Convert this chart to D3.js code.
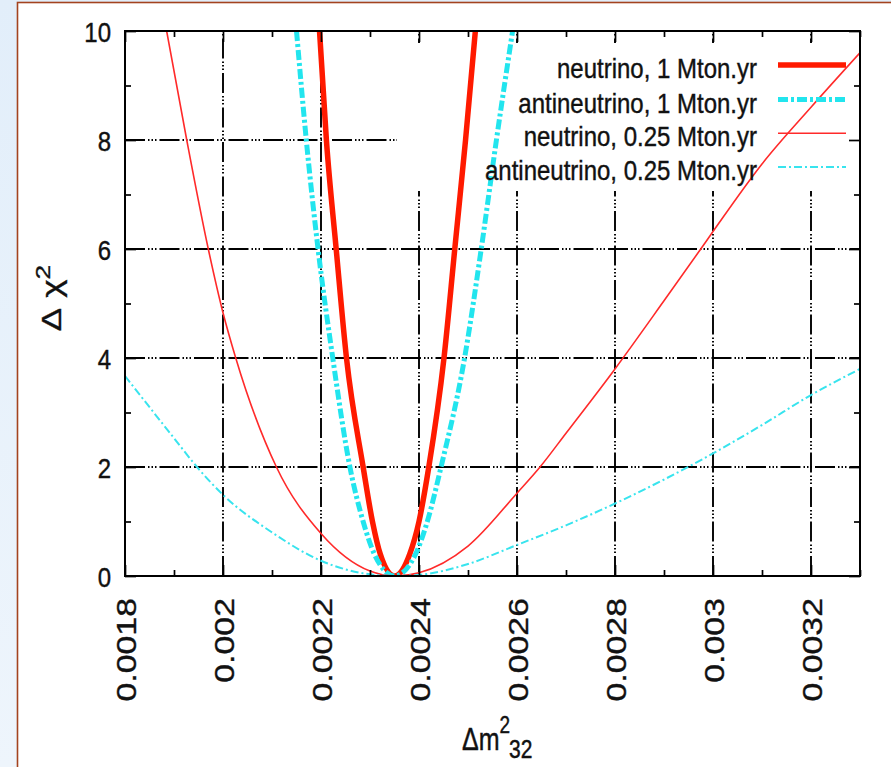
<!DOCTYPE html>
<html><head><meta charset="utf-8">
<script src="https://cdn.jsdelivr.net/npm/d3@7/dist/d3.min.js"></script>
<style>
html,body{margin:0;padding:0;background:#fff;}
svg{display:block;font-family:"Liberation Sans",Arial,Helvetica,sans-serif;}
</style></head>
<body>
<script>
// ---------- data ----------
const xTickValues = [0.0018, 0.002, 0.0022, 0.0024, 0.0026, 0.0028, 0.003, 0.0032];
const xTickLabels = ["0.0018", "0.002", "0.0022", "0.0024", "0.0026", "0.0028", "0.003", "0.0032"];
const xMinorTicks = [0.0019, 0.0021, 0.0023, 0.0025, 0.0027, 0.0029, 0.0031, 0.0033];
const yTickValues = [0, 2, 4, 6, 8, 10];
const yTickLabels = ["0", "2", "4", "6", "8", "10"];
const yMinorTicks = [1, 3, 5, 7, 9];

const seriesNames = ["neutrino, 1 Mton.yr", "antineutrino, 1 Mton.yr",
                     "neutrino, 0.25 Mton.yr", "antineutrino, 0.25 Mton.yr"];

// [delta m^2_32, delta chi^2]
const neutrino1 = [
  [0.002197, 10], [0.002211, 8], [0.002231, 6], [0.002252, 4], [0.002286, 2],
  [0.002305, 1], [0.002321, 0.4], [0.00235, 0], [0.002381, 0.4], [0.0024, 1],
  [0.00242, 2], [0.002451, 4], [0.002473, 6], [0.002495, 8], [0.002515, 10]
];
const antineutrino1 = [
  [0.00215, 10], [0.00217, 8], [0.002194, 6], [0.002224, 4], [0.002259, 2],
  [0.002286, 1], [0.002309, 0.4], [0.00235, 0], [0.002393, 0.4], [0.002417, 1],
  [0.002445, 2], [0.002493, 4], [0.002527, 6], [0.002558, 8], [0.002591, 10]
];
const neutrino025 = [
  [0.001885, 10], [0.001926, 8], [0.00197, 6], [0.002, 4.83], [0.002026, 4],
  [0.002109, 2], [0.0022, 0.78], [0.0023, 0.09], [0.00235, 0], [0.0024, 0.06],
  [0.0025, 0.55], [0.0026, 1.52], [0.002647, 2], [0.0027, 2.62], [0.0028, 3.8],
  [0.0029, 5.05], [0.002975, 6], [0.003, 6.32], [0.0031, 7.56], [0.0032, 8.6],
  [0.0033, 9.6]
];
const antineutrino025 = [
  [0.0018, 3.67], [0.0019, 2.53], [0.001947, 2], [0.002, 1.49], [0.0021, 0.8],
  [0.0022, 0.28], [0.0023, 0.03], [0.00235, 0], [0.0024, 0.02], [0.0025, 0.22],
  [0.0026, 0.57], [0.0027, 0.93], [0.0028, 1.33], [0.0029, 1.77], [0.003, 2.25],
  [0.0031, 2.77], [0.0032, 3.32], [0.0033, 3.8]
];
const seriesData = [neutrino1, antineutrino1, neutrino025, antineutrino025];

// ---------- styles ----------
const seriesStyles = [
  {color: "#ff1a00", width: 5.5, dash: null},
  {color: "#22e5ee", width: 5, dash: "10,3,3,3"},
  {color: "#ff2a2a", width: 1.6, dash: null},
  {color: "#38e4ee", width: 2, dash: "8,3,2,3"}
];

const W = 891, H = 767;
const L = 125, R = 860, T = 31, B = 576;

const svg = d3.select("body").append("svg").attr("width", W).attr("height", H);

// page background and frame
const defs = svg.append("defs");
const grad = defs.append("linearGradient").attr("id", "bg").attr("x1", 0).attr("x2", 0).attr("y1", 0).attr("y2", 1);
grad.append("stop").attr("offset", "0%").attr("stop-color", "#e2eefa");
grad.append("stop").attr("offset", "100%").attr("stop-color", "#eef5fc");
svg.append("rect").attr("width", W).attr("height", H).attr("fill", "url(#bg)");
svg.append("rect").attr("x", 17.5).attr("y", 2.5).attr("width", W + 10).attr("height", H + 10)
  .attr("fill", "#fff").attr("stroke", "#a3431f").attr("stroke-width", 1.6);

defs.append("clipPath").attr("id", "plotclip").append("rect")
  .attr("x", L).attr("y", T).attr("width", R - L).attr("height", B - T);

const x = d3.scaleLinear().domain([0.0018, 0.0033]).range([L, R]);
const y = d3.scaleLinear().domain([0, 10]).range([B, T]);

// grid
const gridDash = "20,3,1.5,2,1.5,2,1.5,3";
const grid = svg.append("g").attr("stroke", "#000").attr("stroke-width", 1.9).attr("stroke-dasharray", gridDash);
grid.selectAll("line.vx").data(xTickValues.slice(1)).join("line")
  .attr("x1", d => x(d)).attr("x2", d => x(d)).attr("y1", B).attr("y2", T);
grid.selectAll("line.hy").data(yTickValues.slice(1, -1)).join("line")
  .attr("x1", L).attr("x2", R).attr("y1", d => y(d)).attr("y2", d => y(d));

// legend box (opaque, hides grid)
svg.append("rect").attr("x", 397).attr("y", 43).attr("width", 462).attr("height", 148).attr("fill", "#fff");

// curves
const line = d3.line().x(d => x(d[0])).y(d => y(d[1])).curve(d3.curveMonotoneX);
const curves = svg.append("g").attr("clip-path", "url(#plotclip)");
seriesData.forEach((data, i) => {
  const st = seriesStyles[i];
  curves.append("path").datum(data).attr("d", line).attr("fill", "none")
    .attr("stroke", st.color).attr("stroke-width", st.width)
    .attr("stroke-dasharray", st.dash).attr("stroke-linejoin", "round");
});

// axes (inward ticks on all four sides)
function clean(g) { g.select(".domain").remove(); g.selectAll("line").attr("stroke", "#000").attr("stroke-width", 1.7); }
svg.append("g").attr("transform", `translate(0,${B})`).call(d3.axisBottom(x).tickValues(xMinorTicks).tickSize(-6).tickFormat("")).call(clean);
svg.append("g").attr("transform", `translate(0,${T})`).call(d3.axisTop(x).tickValues(xMinorTicks).tickSize(-6).tickFormat("")).call(clean);
svg.append("g").attr("transform", `translate(0,${T})`).call(d3.axisTop(x).tickValues(xTickValues).tickSize(-11).tickFormat("")).call(clean);
svg.append("g").attr("transform", `translate(${L},0)`).call(d3.axisLeft(y).tickValues(yMinorTicks).tickSize(-6).tickFormat("")).call(clean);
svg.append("g").attr("transform", `translate(${R},0)`).call(d3.axisRight(y).tickValues(yMinorTicks).tickSize(-6).tickFormat("")).call(clean);
svg.append("g").attr("transform", `translate(${R},0)`).call(d3.axisRight(y).tickValues(yTickValues).tickSize(-11).tickFormat("")).call(clean);

const xAxis = svg.append("g").attr("transform", `translate(0,${B})`)
  .call(d3.axisBottom(x).tickValues(xTickValues).tickSize(-11).tickFormat((d, i) => xTickLabels[i]))
  .call(clean);
xAxis.selectAll("text").attr("x", null).attr("y", null).attr("dy", null)
  .attr("fill", "#111").attr("stroke", "#111").attr("stroke-width", 0.35)
  .attr("font-size", 28).attr("text-anchor", "end")
  .attr("font-family", null)
  .attr("transform", "translate(10,22) scale(1,1.21) rotate(-90)");

const yAxis = svg.append("g").attr("transform", `translate(${L},0)`)
  .call(d3.axisLeft(y).tickValues(yTickValues).tickSize(-11).tickFormat((d, i) => yTickLabels[i]))
  .call(clean);
yAxis.selectAll("text").attr("x", null).attr("y", null).attr("dy", null)
  .attr("fill", "#111").attr("stroke", "#111").attr("stroke-width", 0.35)
  .attr("font-size", 24).attr("text-anchor", "end")
  .attr("font-family", null)
  .attr("transform", "translate(-14,10) scale(1,1.17)");

// frame of the plot
svg.append("rect").attr("x", L).attr("y", T).attr("width", R - L).attr("height", B - T)
  .attr("fill", "none").attr("stroke", "#000").attr("stroke-width", 2);

// legend
const legendBase = [78, 112.5, 146.3, 180];
seriesNames.forEach((name, i) => {
  const st = seriesStyles[i];
  const by = legendBase[i];
  svg.append("text").attr("transform", `translate(757,${by}) scale(1,1.17)`)
    .attr("text-anchor", "end").attr("font-size", 24).attr("fill", "#111")
    .attr("stroke", "#111").attr("stroke-width", 0.35).text(name);
  svg.append("line").attr("x1", 778).attr("x2", 846).attr("y1", by - 13).attr("y2", by - 13)
    .attr("stroke", st.color).attr("stroke-width", st.width).attr("stroke-dasharray", st.dash);
});

// axis titles
const yt = svg.append("text").attr("transform", "translate(61,298) scale(1,1.25) rotate(-90)")
  .attr("text-anchor", "middle").attr("font-size", 28).attr("fill", "#111")
  .attr("stroke", "#111").attr("stroke-width", 0.35);
yt.append("tspan").text("Δ");
yt.append("tspan").attr("dx", 8).text("χ");
yt.append("tspan").attr("dy", -11).attr("font-size", 21).text("2");

const xt = svg.append("text").attr("transform", "translate(462,750) scale(1,1.25)")
  .attr("font-size", 25).attr("fill", "#111").attr("stroke", "#111").attr("stroke-width", 0.35);
xt.append("tspan").text("Δm");
xt.append("tspan").attr("dy", -14).attr("font-size", 19).text("2");
xt.append("tspan").attr("dx", -1).attr("dy", 20).attr("font-size", 21).text("32");
</script>
</body></html>
